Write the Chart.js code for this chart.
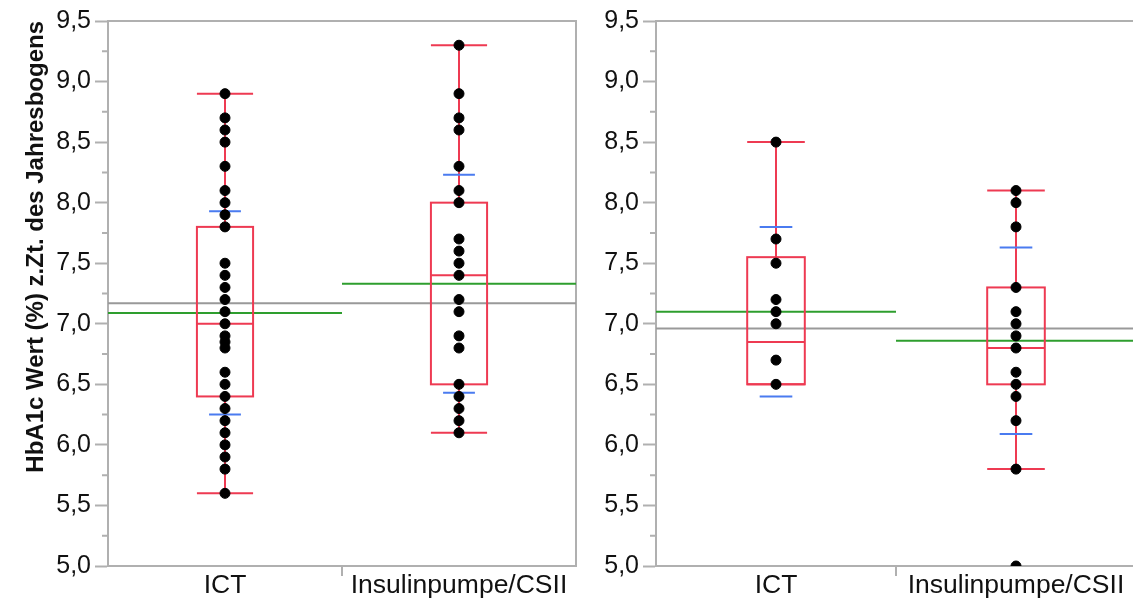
<!DOCTYPE html>
<html>
<head>
<meta charset="utf-8">
<script src="https://cdn.jsdelivr.net/npm/chart.js@4"></script>
<style>
  html, body { margin: 0; padding: 0; background: #fff; overflow: hidden; }
  #wrapA { position: absolute; left: 0; top: 0; width: 582px; height: 599px; }
  #wrapB { position: absolute; left: 582px; top: 0; width: 560px; height: 599px; }
</style>
</head>
<body>
<div id="wrapA"><canvas id="chartA"></canvas></div>
<div id="wrapB"><canvas id="chartB"></canvas></div>
<script>
const categories = ['ICT', 'Insulinpumpe/CSII'];
const yTickValues = [5.0, 5.5, 6.0, 6.5, 7.0, 7.5, 8.0, 8.5, 9.0, 9.5];

// left panel: single values
const ictA = [8.9, 8.7, 8.6, 8.5, 8.3, 8.1, 8.0, 7.9, 7.8, 7.5, 7.4, 7.3, 7.2, 7.1, 7.0,
              6.9, 6.85, 6.8, 6.6, 6.5, 6.4, 6.3, 6.2, 6.1, 6.0, 5.9, 5.8, 5.6];
const pumpA = [9.3, 8.9, 8.7, 8.6, 8.3, 8.1, 8.0, 7.7, 7.6, 7.5, 7.4, 7.2, 7.1, 6.9, 6.8,
               6.5, 6.4, 6.3, 6.2, 6.1];
// left panel: box stats per category
const minA = [5.6, 6.1];
const q1A = [6.4, 6.5];
const medA = [7.0, 7.4];
const q3A = [7.8, 8.0];
const maxA = [8.9, 9.3];
const meanA = [7.09, 7.33];
const sdA = [0.84, 0.90];
const grandA = 7.17;

// right panel
const ictB = [8.5, 7.7, 7.5, 7.2, 7.1, 7.0, 6.7, 6.5];
const pumpB = [8.1, 8.0, 7.8, 7.3, 7.1, 7.0, 6.9, 6.8, 6.6, 6.5, 6.4, 6.2, 5.8, 5.0];
const minB = [6.5, 5.8];
const q1B = [6.5, 6.5];
const medB = [6.85, 6.8];
const q3B = [7.55, 7.3];
const maxB = [8.5, 8.1];
const meanB = [7.1, 6.86];
const sdB = [0.70, 0.77];
const grandB = 6.96;

const RED = '#ee3a52';
const BLUE = '#4a7bf0';
const GREEN = '#2e9e2e';
const AXIS = '#b0b0b0';

const boxPlot = {
  id: 'boxPlot',
  beforeDatasetsDraw(chart, args, opts) {
    const { ctx, chartArea: a, scales: { x, y } } = chart;
    const unit = x.getPixelForValue(1) - x.getPixelForValue(0);
    ctx.save();

    // frame
    ctx.strokeStyle = AXIS;
    ctx.lineWidth = 2;
    ctx.beginPath();
    ctx.moveTo(a.left, a.top);
    ctx.lineTo(a.right, a.top);
    if (opts.rightBorder) ctx.lineTo(a.right, a.bottom);
    ctx.stroke();

    // minor y ticks
    ctx.beginPath();
    for (let i = 0; i < yTickValues.length - 1; i++) {
      const py = y.getPixelForValue((yTickValues[i] + yTickValues[i + 1]) / 2);
      ctx.moveTo(a.left - 6, py);
      ctx.lineTo(a.left, py);
    }
    // category divider below x axis
    const dx = x.getPixelForValue(1);
    ctx.moveTo(dx, a.bottom);
    ctx.lineTo(dx, a.bottom + 10);
    ctx.stroke();

    // overall mean
    ctx.strokeStyle = '#999999';
    ctx.beginPath();
    ctx.moveTo(x.getPixelForValue(0), y.getPixelForValue(opts.grand));
    ctx.lineTo(x.getPixelForValue(2), y.getPixelForValue(opts.grand));
    ctx.stroke();

    categories.forEach((c, i) => {
      const cx = x.getPixelForValue(i + 0.5);
      const hw = unit * 0.12;
      const sw = unit * 0.068;

      // group mean
      ctx.strokeStyle = GREEN;
      ctx.beginPath();
      ctx.moveTo(x.getPixelForValue(i), y.getPixelForValue(opts.mean[i]));
      ctx.lineTo(x.getPixelForValue(i + 1), y.getPixelForValue(opts.mean[i]));
      ctx.stroke();

      // box, median, whiskers, caps
      ctx.strokeStyle = RED;
      const yq1 = y.getPixelForValue(opts.q1[i]);
      const yq3 = y.getPixelForValue(opts.q3[i]);
      ctx.strokeRect(cx - hw, yq3, hw * 2, yq1 - yq3);
      ctx.beginPath();
      const ym = y.getPixelForValue(opts.med[i]);
      ctx.moveTo(cx - hw, ym); ctx.lineTo(cx + hw, ym);
      ctx.moveTo(cx, yq3); ctx.lineTo(cx, y.getPixelForValue(opts.max[i]));
      ctx.moveTo(cx, yq1); ctx.lineTo(cx, y.getPixelForValue(opts.min[i]));
      ctx.moveTo(cx - hw, y.getPixelForValue(opts.max[i]));
      ctx.lineTo(cx + hw, y.getPixelForValue(opts.max[i]));
      ctx.moveTo(cx - hw, y.getPixelForValue(opts.min[i]));
      ctx.lineTo(cx + hw, y.getPixelForValue(opts.min[i]));
      ctx.stroke();

      // mean +/- sd
      ctx.strokeStyle = BLUE;
      ctx.beginPath();
      [opts.mean[i] - opts.sd[i], opts.mean[i] + opts.sd[i]].forEach(v => {
        ctx.moveTo(cx - sw, y.getPixelForValue(v));
        ctx.lineTo(cx + sw, y.getPixelForValue(v));
      });
      ctx.stroke();
    });
    ctx.restore();
  }
};

function makeChart(id, ict, pump, stats, axisWidth, padRight, withTitle) {
  const ctx = document.getElementById(id).getContext('2d');
  return new Chart(ctx, {
    type: 'scatter',
    data: {
      datasets: [{
        data: ict.map(v => ({ x: 0.5, y: v })).concat(pump.map(v => ({ x: 1.5, y: v }))),
        backgroundColor: '#000',
        borderColor: '#000',
        pointRadius: 5,
        pointHoverRadius: 5
      }]
    },
    options: {
      responsive: true,
      maintainAspectRatio: false,
      animation: false,
      layout: { padding: { top: 21, right: padRight, left: 0, bottom: 0 } },
      plugins: {
        legend: { display: false },
        tooltip: { enabled: false },
        boxPlot: stats
      },
      scales: {
        x: {
          type: 'linear',
          min: 0,
          max: 2,
          afterBuildTicks: s => { s.ticks = categories.map((c, i) => ({ value: i + 0.5 })); },
          afterFit: s => { s.height = 33; },
          grid: { display: false },
          border: { color: AXIS, width: 2 },
          ticks: {
            callback: v => categories[Math.floor(v)],
            autoSkip: false,
            maxRotation: 0,
            padding: -4,
            color: '#111',
            font: { family: 'Liberation Sans, Arial, sans-serif', size: 26.5 }
          }
        },
        y: {
          min: 5,
          max: 9.5,
          afterBuildTicks: s => { s.ticks = yTickValues.map(v => ({ value: v })); },
          afterFit: s => { s.width = axisWidth; },
          grid: { drawOnChartArea: false, tickLength: 13, tickColor: AXIS, tickWidth: 2 },
          border: { color: AXIS, width: 2 },
          ticks: {
            callback: v => v.toFixed(1).replace('.', ','),
            padding: 4,
            color: '#111',
            font: { family: 'Liberation Sans, Arial, sans-serif', size: 25 }
          },
          title: {
            display: withTitle,
            text: 'HbA1c Wert (%) z.Zt. des Jahresbogens',
            align: 'end',
            color: '#111',
            padding: { top: 22, bottom: 0 },
            font: { family: 'Liberation Sans, Arial, sans-serif', size: 24, weight: 'bold' }
          }
        }
      }
    },
    plugins: [boxPlot]
  });
}

makeChart('chartA', ictA, pumpA,
  { min: minA, q1: q1A, med: medA, q3: q3A, max: maxA, mean: meanA, sd: sdA, grand: grandA, rightBorder: true },
  108, 2, true);
makeChart('chartB', ictB, pumpB,
  { min: minB, q1: q1B, med: medB, q3: q3B, max: maxB, mean: meanB, sd: sdB, grand: grandB, rightBorder: false },
  74, 6, false);
</script>
</body>
</html>
